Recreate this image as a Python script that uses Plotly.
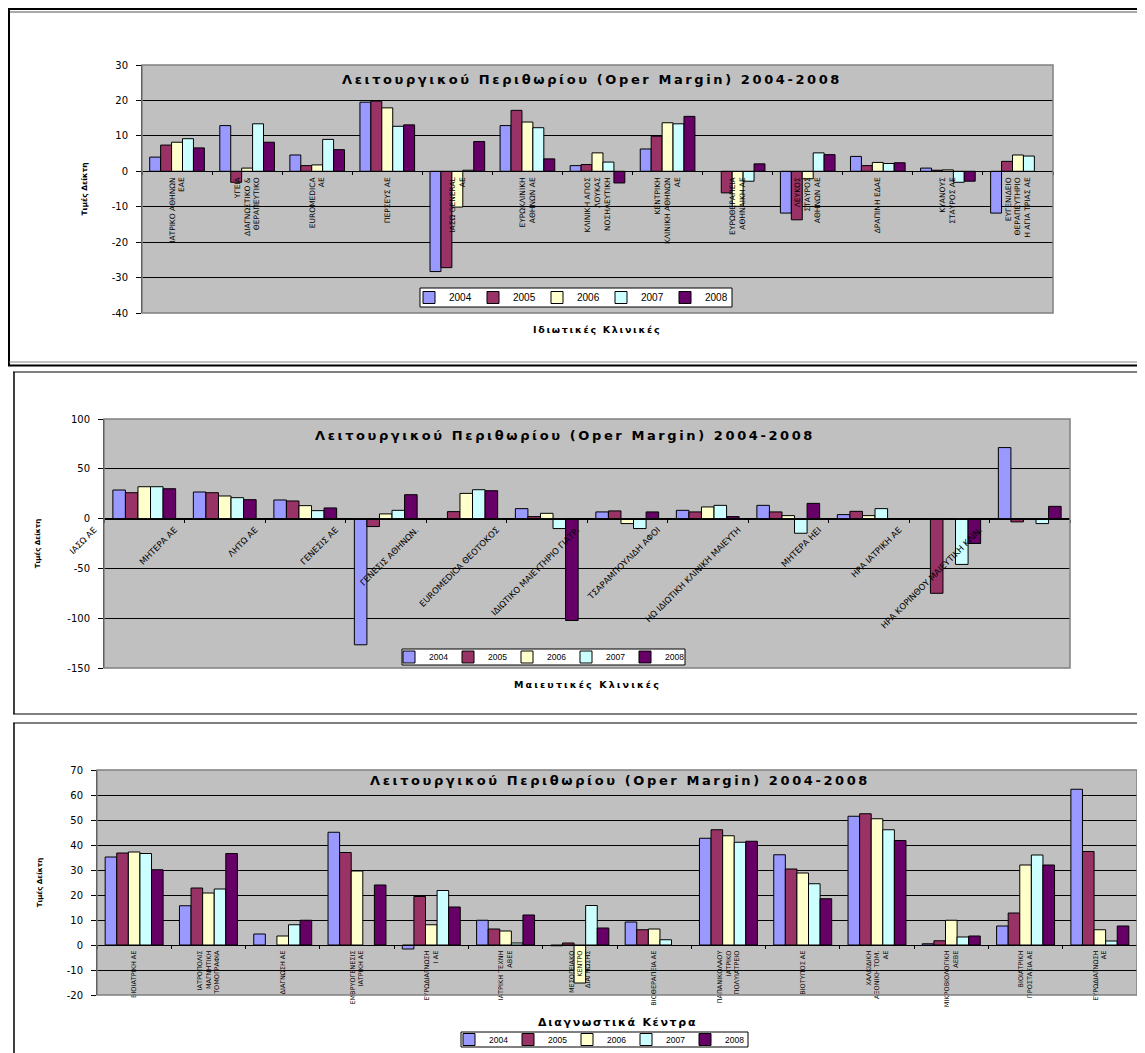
import plotly.graph_objects as go

# The page body adds an 8px offset; the figure is sized to fill the rest of the window.
PAGE_W, PAGE_H, OFF = 1145, 1053, 8
W, H = PAGE_W - OFF, PAGE_H - OFF

years = ["2004", "2005", "2006", "2007", "2008"]
year_colors = ["#9999FF", "#993366", "#FFFFCC", "#CCFFFF", "#660066"]

# ---------------- Chart 1: Ιδιωτικές Κλινικές ----------------
priv_cats = [
    "ΙΑΤΡΙΚΟ ΑΘΗΝΩΝ<br>ΕΑΕ",
    "ΥΓΕΙΑ<br>ΔΙΑΓΝΩΣΤΙΚΟ &<br>ΘΕΡΑΠΕΥΤΙΚΟ",
    "EUROMEDICA<br>ΑΕ",
    "ΠΕΡΣΕΥΣ ΑΕ",
    "ΙΑΣΩ GENERAL<br>ΑΕ",
    "ΕΥΡΩΚΛΙΝΙΚΗ<br>ΑΘΗΝΩΝ ΑΕ",
    "ΚΛΙΝΙΚΗ ΑΓΙΟΣ<br>ΛΟΥΚΑΣ<br>ΝΟΣΗΛΕΥΤΙΚΗ",
    "ΚΕΝΤΡΙΚΗ<br>ΚΛΙΝΙΚΗ ΑΘΗΝΩΝ<br>ΑΕ",
    "ΕΥΡΩΘΕΡΑΠΕΙΑ<br>ΑΘΗΝΑΙΚΗ ΑΕ",
    "ΛΕΥΚΟΣ<br>ΣΤΑΥΡΟΣ<br>ΑΘΗΝΩΝ ΑΕ",
    "ΔΡΑΠΙΝΗ ΕΔΑΕ",
    "ΚΥΑΝΟΥΣ<br>ΣΤΑΥΡΟΣ ΑΕ",
    "ΕΥΓΕΝΙΔΕΙΟ<br>ΘΕΡΑΠΕΥΤΗΡΙΟ<br>Η ΑΓΙΑ ΤΡΙΑΣ ΑΕ",
]
priv_2004 = [4.0, 12.9, 4.6, 19.5, -28.3, 12.9, 1.6, 6.3, None, -11.8, 4.2, 0.9, -11.8]
priv_2005 = [7.4, -3.1, 1.6, 19.8, -27.2, 17.2, 1.9, 9.9, -6.1, -13.7, 1.6, 0.3, 2.8]
priv_2006 = [8.2, 0.9, 1.8, 17.9, -10.1, 13.9, 5.2, 13.7, -9.9, -2.1, 2.5, 0.4, 4.6]
priv_2007 = [9.2, 13.4, 9.0, 12.7, 0.3, 12.3, 2.6, 13.4, -2.8, 5.2, 2.2, -3.1, 4.3]
priv_2008 = [6.6, 8.2, 6.1, 13.1, 8.4, 3.5, -3.3, 15.5, 2.1, 4.7, 2.4, -2.8, None]
priv_yticks = [-40, -30, -20, -10, 0, 10, 20, 30]
priv_yticktext = ["-40", "-30", "-20", "-10", "0", "10", "20", "30"]

# ---------------- Chart 2: Μαιευτικές Κλινικές ----------------
mat_cats = [
    "ΙΑΣΩ ΑΕ",
    "ΜΗΤΕΡΑ ΑΕ",
    "ΛΗΤΩ ΑΕ",
    "ΓΕΝΕΣΙΣ ΑΕ",
    "ΓΕΝΕΣΙΣ ΑΘΗΝΩΝ.",
    "EUROMEDICA ΘΕΟΤΟΚΟΣ",
    "ΙΔΙΩΤΙΚΟ ΜΑΙΕΥΤΗΡΙΟ ΓΙΑΤΡ.",
    "ΤΣΑΡΑΜΠΟΥΛΙΔΗ ΑΦΟΙ",
    "ΗΩ ΙΔΙΩΤΙΚΗ ΚΛΙΝΙΚΗ ΜΑΙΕΥΤΗ",
    "ΜΗΤΕΡΑ ΗΕΙ",
    "ΗΡΑ ΙΑΤΡΙΚΗ ΑΕ",
    "ΗΡΑ ΚΟΡΙΝΘΟΥ ΜΑΙΕΥΤΙΚΗ ΚΛΙΝ.",
]
mat_2004 = [28.7, 26.7, 18.7, -126.7, None, 10.0, 6.7, 8.3, 13.3, 4.0, None, 71.3]
mat_2005 = [26.0, 26.0, 17.7, -8.0, 7.0, 2.0, 7.7, 6.7, 6.7, 7.3, -75.0, -3.3]
mat_2006 = [32.0, 22.7, 13.0, 4.7, 25.3, 5.3, -5.0, 11.7, 3.0, 3.0, None, -0.5]
mat_2007 = [32.0, 21.0, 8.0, 8.3, 29.0, -10.0, -10.0, 13.3, -14.7, 10.0, -46.0, -5.0]
mat_2008 = [30.0, 19.0, 10.7, 24.0, 28.0, -102.3, 6.7, 2.0, 15.3, None, -25.0, 12.3]
mat_yticks = [-150, -100, -50, 0, 50, 100]
mat_yticktext = ["-150", "-100", "-50", "0", "50", "100"]

# ---------------- Chart 3: Διαγνωστικά Κέντρα ----------------
diag_cats = [
    "ΒΙΟΙΑΤΡΙΚΗ ΑΕ",
    "ΙΑΤΡΟΠΟΛΙΣ<br>ΜΑΓΝΗΤΙΚΗ<br>ΤΟΜΟΓΡΑΦΙΑ",
    "ΔΙΑΓΝΩΣΗ ΑΕ",
    "ΕΜΒΡΥΟΓΕΝΕΣΙΣ<br>ΙΑΤΡΙΚΗ ΑΕ",
    "ΕΥΡΩΔΙΑΓΝΩΣΗ<br>Ι ΑΕ",
    "ΙΑΤΡΙΚΗ ΤΕΧΝΗ<br>ΑΒΕΕ",
    "ΜΕΣΟΓΕΙΑΚΟ<br>ΚΕΝΤΡΟ<br>ΔΙΑΓΝΩΣΗΣ",
    "ΒΙΟΘΕΡΑΠΕΙΑ ΑΕ",
    "ΠΑΠΑΝΙΚΟΛΑΟΥ<br>ΙΑΤΡΙΚΟ<br>ΠΟΛΥΙΑΤΡΕΙΟ",
    "ΒΙΟΤΥΠΟΣ ΑΕ",
    "ΧΑΛΚΙΔΙΚΗ<br>ΑΞΟΝΙΚΗ ΤΟΜ.<br>ΑΕ",
    "ΜΙΚΡΟΒΙΟΛΟΓΙΚΗ<br>ΑΕΒΕ",
    "ΒΙΟΙΑΤΡΙΚΗ<br>ΠΡΟΣΤΑΣΙΑ ΑΕ",
    "ΕΥΡΩΔΙΑΓΝΩΣΗ<br>ΑΕ",
]
diag_2004 = [35.2, 15.7, 4.4, 45.1, -1.6, 9.9, -0.3, 9.2, 42.7, 36.1, 51.5, 0.5, 7.6, 62.3]
diag_2005 = [36.8, 22.8, None, 37.0, 19.4, 6.4, 0.8, 6.1, 46.1, 30.4, 52.5, 1.7, 12.8, 37.4]
diag_2006 = [37.2, 20.8, 3.6, 29.6, 8.1, 5.6, -15.2, 6.4, 43.7, 28.8, 50.5, 9.9, 32.0, 6.1]
diag_2007 = [36.6, 22.4, 8.1, None, 21.8, 0.8, 15.8, 2.1, 41.1, 24.5, 46.1, 3.2, 36.0, 1.6]
diag_2008 = [30.1, 36.6, 9.9, 24.0, 15.2, 12.0, 6.8, None, 41.5, 18.5, 41.8, 3.6, 32.0, 7.6]
diag_yticks = [-20, -10, 0, 10, 20, 30, 40, 50, 60, 70]
diag_yticktext = ["-20", "-10", "0", "10", "20", "30", "40", "50", "60", "70"]

chart_title = "Λειτουργικού Περιθωρίου (Oper Margin) 2004-2008"
y_title = "Τιμές Δείκτη"

FONT = "DejaVu Sans, Arial, sans-serif"
LEG_FONT = "Liberation Sans, Arial, sans-serif"


def fx(px):
    """page pixel x -> paper fraction"""
    return (px - OFF) / W


def fy(py):
    """page pixel y -> paper fraction"""
    return 1 - (py - OFF) / H


def spaced(text, ls):
    return '<span style="letter-spacing:%spx">%s</span>' % (ls, text)


charts = [
    dict(cats=priv_cats, series=[priv_2004, priv_2005, priv_2006, priv_2007, priv_2008],
         yticks=priv_yticks, ytext=priv_yticktext,
         xpx=(142, 1053), ypx=(65, 313), tickangle=-90, xfont=7.5, shift=0,
         xtitle="Ιδιωτικές Κλινικές", xtitle_at=(597, 329), xtitle_size=9.5, xtitle_ls=1.7,
         title_at=(592, 79), legbox=(420, 288, 732, 307), leg_x=409, leg_font=10, leg_entry=19,
         ystand=23, ytitle_size=7.5),
    dict(cats=mat_cats, series=[mat_2004, mat_2005, mat_2006, mat_2007, mat_2008],
         yticks=mat_yticks, ytext=mat_yticktext,
         xpx=(104, 1070), ypx=(419, 668), tickangle=-45, xfont=8.5, shift=-50,
         xtitle="Μαιευτικές Κλινικές", xtitle_at=(587, 684), xtitle_size=9.5, xtitle_ls=2.1,
         title_at=(565, 436), legbox=(402, 649, 685, 665), leg_x=389, leg_font=8.5, leg_entry=14,
         ystand=25, ytitle_size=7),
    dict(cats=diag_cats, series=[diag_2004, diag_2005, diag_2006, diag_2007, diag_2008],
         yticks=diag_yticks, ytext=diag_yticktext,
         xpx=(97, 1137), ypx=(770, 995), tickangle=-90, xfont=6.5, shift=0,
         xtitle="Διαγνωστικά Κέντρα", xtitle_at=(617, 1022), xtitle_size=11, xtitle_ls=1.7,
         title_at=(620, 780), legbox=(461, 1032, 748, 1047), leg_x=449, leg_font=8.5, leg_entry=14,
         ystand=23, ytitle_size=7),
]

fig = go.Figure()
annotations = []
shapes = []
layout = dict(
    width=W, height=H,
    margin=dict(l=0, r=0, t=0, b=0, autoexpand=False),
    paper_bgcolor="white",
    plot_bgcolor="#C0C0C0",
    barmode="group",
    bargap=0.22,
    bargroupgap=0.0,
    font=dict(family=FONT, color="black"),
)

for i, ch in enumerate(charts, start=1):
    sx = "" if i == 1 else str(i)
    xname, yname = "x" + sx, "y" + sx
    legname = "legend" + sx
    for yr, col, vals in zip(years, year_colors, ch["series"]):
        fig.add_trace(go.Bar(
            x=ch["cats"], y=vals, name=yr,
            marker=dict(color=col, line=dict(color="black", width=1)),
            xaxis=xname, yaxis=yname, legend=legname,
            hoverinfo="skip",
        ))
    ymin, ymax = ch["yticks"][0], ch["yticks"][-1]
    ydom = [fy(ch["ypx"][1]), fy(ch["ypx"][0])]
    xdom = [fx(ch["xpx"][0]), fx(ch["xpx"][1])]
    zero_pos = ydom[0] + (0 - ymin) / (ymax - ymin) * (ydom[1] - ydom[0])
    layout["xaxis" + sx] = dict(
        domain=xdom, type="category", anchor="free", position=zero_pos,
        showline=True, linecolor="black", linewidth=1,
        ticks="outside", ticklen=3, tickcolor="black", tickson="boundaries",
        tickangle=ch["tickangle"], tickfont=dict(size=ch["xfont"], family=FONT),
        ticklabelshift=ch["shift"], ticklabelstandoff=2,
        showgrid=False, zeroline=False, fixedrange=True, automargin=False,
    )
    layout["yaxis" + sx] = dict(
        domain=ydom, anchor=xname, range=[ymin, ymax],
        tickmode="array", tickvals=ch["yticks"], ticktext=ch["ytext"],
        showline=True, linecolor="black", linewidth=1,
        ticks="outside", ticklen=5, tickcolor="black",
        tickfont=dict(size=10, family=FONT), ticklabelstandoff=6,
        showgrid=True, gridcolor="black", gridwidth=1, zeroline=False,
        fixedrange=True, automargin=False,
        title=dict(text=y_title, font=dict(size=ch["ytitle_size"], weight="bold"),
                   standoff=ch["ystand"]),
    )
    bx0, by0, bx1, by1 = ch["legbox"]
    layout[legname] = dict(
        orientation="h", x=fx(ch["leg_x"]), y=fy((by0 + by1) / 2),
        xanchor="left", yanchor="middle", bgcolor="rgba(0,0,0,0)",
        borderwidth=0,
        font=dict(size=ch["leg_font"], family=LEG_FONT),
        entrywidth=ch["leg_entry"], entrywidthmode="pixels",
    )
    # legend frame (white box with black border)
    shapes.append(dict(type="rect", xref="paper", yref="paper",
                       x0=fx(bx0), x1=fx(bx1), y0=fy(by1), y1=fy(by0),
                       fillcolor="white", line=dict(color="black", width=1), layer="above"))
    # plot-area border (grey)
    shapes.append(dict(type="rect", xref=xname + " domain", yref=yname + " domain",
                       x0=0, x1=1, y0=0, y1=1, line=dict(color="#808080", width=1.5),
                       layer="above"))
    # chart title inside plot area
    annotations.append(dict(
        text=spaced(chart_title, 2.6), x=fx(ch["title_at"][0]), y=fy(ch["title_at"][1]),
        xref="paper", yref="paper", xanchor="center", yanchor="middle", showarrow=False,
        font=dict(size=13, weight="bold", family=FONT)))
    # category axis title
    annotations.append(dict(
        text=spaced(ch["xtitle"], ch["xtitle_ls"]), x=fx(ch["xtitle_at"][0]), y=fy(ch["xtitle_at"][1]),
        xref="paper", yref="paper", xanchor="center", yanchor="middle", showarrow=False,
        font=dict(size=ch["xtitle_size"], weight="bold", family=FONT)))


# surrounding frames of the three embedded charts
def hline(y, x0, x1, w, color="black"):
    return dict(type="line", xref="paper", yref="paper", x0=fx(x0), x1=fx(x1),
                y0=fy(y), y1=fy(y), line=dict(color=color, width=w))


def vline(x, y0, y1, w, color="black"):
    return dict(type="line", xref="paper", yref="paper", x0=fx(x), x1=fx(x),
                y0=fy(y0), y1=fy(y1), line=dict(color=color, width=w))


shapes += [
    hline(9, 8, 1150, 2), hline(12, 8, 1150, 1, "#555555"), vline(9, 8, 366, 2),
    hline(362, 9, 1150, 1, "#888888"), hline(365.5, 8, 1150, 2),
    hline(372, 13, 1150, 1), vline(14, 372, 714, 1.5), hline(714, 13, 1150, 1),
    hline(723, 13, 1150, 1), vline(14, 723, 1060, 1.5),
]

layout["shapes"] = shapes
layout["annotations"] = annotations
fig.update_layout(**layout)
fig.write_html("out.html")
